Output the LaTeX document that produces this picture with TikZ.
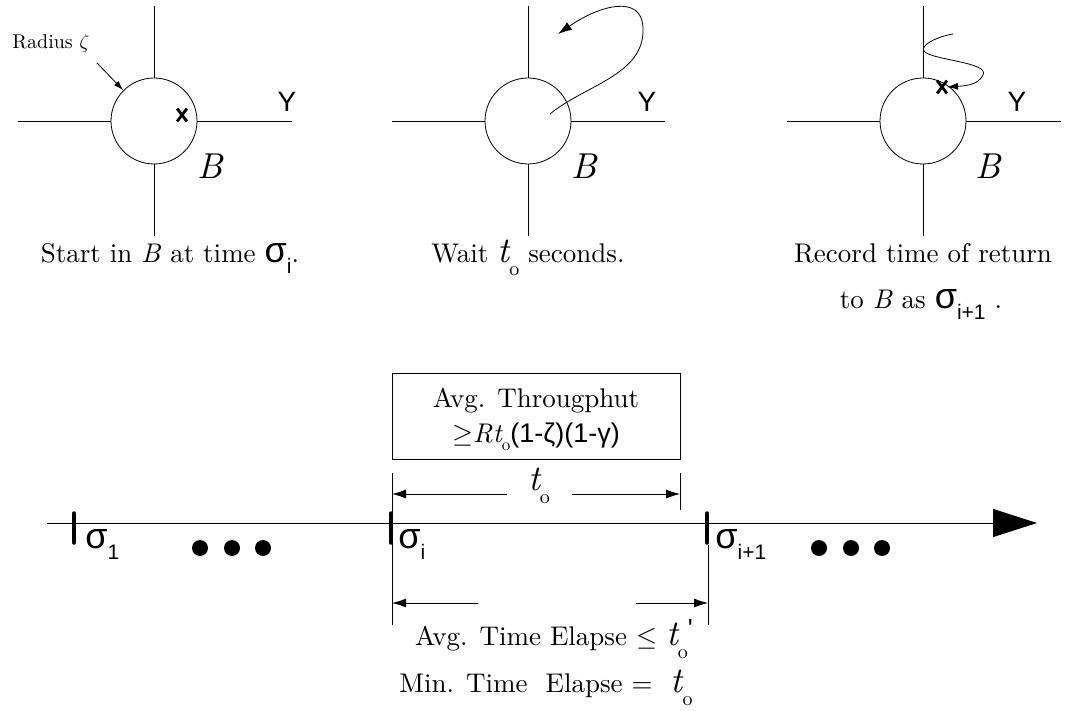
\RequirePackage{fix-cm}
\documentclass[tikz,border=0pt]{standalone}
\usepackage{fontspec}
\setmainfont{lmroman10-regular.otf}[ItalicFont=lmroman10-italic.otf,BoldFont=lmroman10-bold.otf]
\usetikzlibrary{arrows.meta}
\newfontfamily\sfx{Liberation Sans}
\newcommand\capsize{\fontsize{27}{32}\selectfont}
\newcommand\sigsub[1]{{\sfx\fontsize{36}{36}\selectfont σ}\raisebox{-11pt}{\sfx\fontsize{21}{21}\selectfont #1}}
\newcommand\bigt{{\fontsize{36}{36}\selectfont\itshape t}\raisebox{-13pt}{\fontsize{20}{20}\selectfont o}}
\newcommand\smallt{{\itshape t}\raisebox{-8pt}{\fontsize{17}{17}\selectfont o}}
\begin{document}
\begin{tikzpicture}[x=1pt,y=-1pt,line width=0.8pt,
  ring/.style={draw,circle,minimum size=86pt,inner sep=0pt},
  ylab/.style={font=\sfx\fontsize{28}{28}\selectfont,inner sep=0pt},
  xmark/.style={inner sep=0pt,minimum width=9pt,minimum height=12pt},
  xstroke/.style={line width=2.8pt},
  blab/.style={font=\fontsize{36}{36}\selectfont\itshape,inner sep=0pt},
  captxt/.style={font=\capsize,anchor=base,inner sep=0pt},
  tickmark/.style={line width=3.5pt,line cap=round},
  dot/.style={circle,fill,inner sep=0pt,minimum size=16pt},
  darr/.style={-{Latex[length=14pt,width=9pt]}},
  siglab/.style={anchor=base west,inner sep=0pt}
]
\useasboundingbox (0,0) rectangle (1065,711);

% ---------- panel 1
\node[ring] (c1) at (154,121) {};
\coordinate (n1) at (154,6); \coordinate (s1) at (154,236);
\coordinate (w1) at (18,121); \coordinate (e1) at (292,121);
\draw (n1) -- (c1.north) (c1.south) -- (s1) (w1) -- (c1.west) (c1.east) -- (e1);
\node[ylab] (y1) at (287,102) {Y};
\node[xmark] (x1) at (182,115) {};
\draw[xstroke] (x1.north west) -- (x1.south east) (x1.north east) -- (x1.south west);
\node[blab] (b1) at (210,166) {B};
\node[font=\fontsize{20}{20}\selectfont,inner sep=0pt] (rad) at (51,44) {Radius $\zeta$};
\coordinate (ra) at (97,63);
\draw[-{Latex[length=10pt,width=6pt]}] (ra) -- (c1.135);
\node[captxt] (cap1) at (170,262) {Start in \textit{B} at time \sigsub{i}.};

% ---------- panel 2
\node[ring] (c2) at (528,121) {};
\coordinate (n2) at (528,6); \coordinate (s2) at (528,236);
\coordinate (w2) at (392,121); \coordinate (e2) at (665,121);
\draw (n2) -- (c2.north) (c2.south) -- (s2) (w2) -- (c2.west) (c2.east) -- (e2);
\node[ylab] (y2) at (647,102) {Y};
\node[blab] (b2) at (584,166) {B};
\coordinate (p0) at (550,114); \coordinate (p1) at (643,28); \coordinate (p2) at (558,34);
\draw[-{Latex[length=14pt,width=9pt]}] (p0) .. controls (585,85) and (645,75) .. (p1)
   .. controls (642,-6) and (600,5) .. (p2);
\node[captxt] (cap2) at (528,263) {Wait \bigt\ seconds.};

% ---------- panel 3
\node[ring] (c3) at (923,121) {};
\coordinate (n3) at (923,6); \coordinate (s3) at (923,236);
\coordinate (w3) at (787,121); \coordinate (e3) at (1061,121);
\draw (n3) -- (c3.north) (c3.south) -- (s3) (w3) -- (c3.west) (c3.east) -- (e3);
\node[ylab] (y3) at (1017,102) {Y};
\node[blab] (b3) at (988,166) {B};
\node[xmark] (x3) at (942,87) {};
\draw[xstroke] (x3.north west) -- (x3.south east) (x3.north east) -- (x3.south west);
\coordinate (q0) at (953,34); \coordinate (q1) at (924,51); \coordinate (q2) at (983,75);
\draw[-{Latex[length=11pt,width=7pt]}] (q0) .. controls (935,37) and (920,46) .. (q1)
   .. controls (930,60) and (990,62) .. (q2)
   .. controls (978,86) and (962,86) .. (x3.east);
\node[captxt] (cap3a) at (923,263) {Record time of return};
\node[captxt] (cap3b) at (921,308) {to \textit{B} as \sigsub{i+1} .};

% ---------- box
\node[draw,minimum width=288pt,minimum height=86pt,inner sep=0pt] (box) at (536,416) {};
\node[captxt] (bl1) at (536,407) {Avg. Througphut};
\node[captxt] (bl2) at (536,442) {$\geq$\textit{R}\smallt{\sfx(1-ζ)(1-γ)}};

% ---------- timeline
\coordinate (tl0) at (47,523); \coordinate (tl1) at (1037,523);
\draw[-{Triangle[length=44pt,width=28pt]}] (tl0) -- (tl1);
\coordinate (k1a) at (74,513); \coordinate (k1b) at (74,543);
\coordinate (k2a) at (391,513); \coordinate (k2b) at (391,543);
\coordinate (k3a) at (707,513); \coordinate (k3b) at (707,543);
\draw[tickmark] (k1a) -- (k1b) (k2a) -- (k2b) (k3a) -- (k3b);
\node[siglab] (sg1) at (85,548) {\sigsub{1}};
\node[siglab] (sg2) at (398,548) {\sigsub{i}};
\node[siglab] (sg3) at (715,548) {\sigsub{i+1}};
\node[dot] (d1) at (200,548) {}; \node[dot] (d2) at (232,548) {}; \node[dot] (d3) at (263,548) {};
\node[dot] (d4) at (819,548) {}; \node[dot] (d5) at (851,548) {}; \node[dot] (d6) at (882,548) {};

% ---------- dimension t_o (upper)
\coordinate (ua) at (392,473); \coordinate (ub) at (392,625);
\coordinate (uc) at (680,473); \coordinate (ud) at (680,510);
\draw (ua) -- (ub) (uc) -- (ud);
\coordinate (ul) at (392,494); \coordinate (ur) at (680,494);
\coordinate (um1) at (507,494); \coordinate (um2) at (572,494);
\draw[darr] (um1) -- (ul); \draw[darr] (um2) -- (ur);
\node[captxt] (tlab) at (539,490) {\bigt};

% ---------- dimension (lower)
\coordinate (la) at (708,545); \coordinate (lb) at (708,625);
\draw (la) -- (lb);
\coordinate (ll) at (392,603); \coordinate (lr) at (708,603);
\coordinate (lm1) at (478,603); \coordinate (lm2) at (636,603);
\draw[darr] (lm1) -- (ll); \draw[darr] (lm2) -- (lr);
\node[captxt] (avg) at (554,645) {Avg. Time Elapse $\leq$ \bigt\raisebox{8pt}{\sfx\fontsize{26}{26}\selectfont\textquotesingle}};
\node[captxt] (min) at (546,692) {Min. Time~~Elapse = ~\bigt};
\end{tikzpicture}
\end{document}
